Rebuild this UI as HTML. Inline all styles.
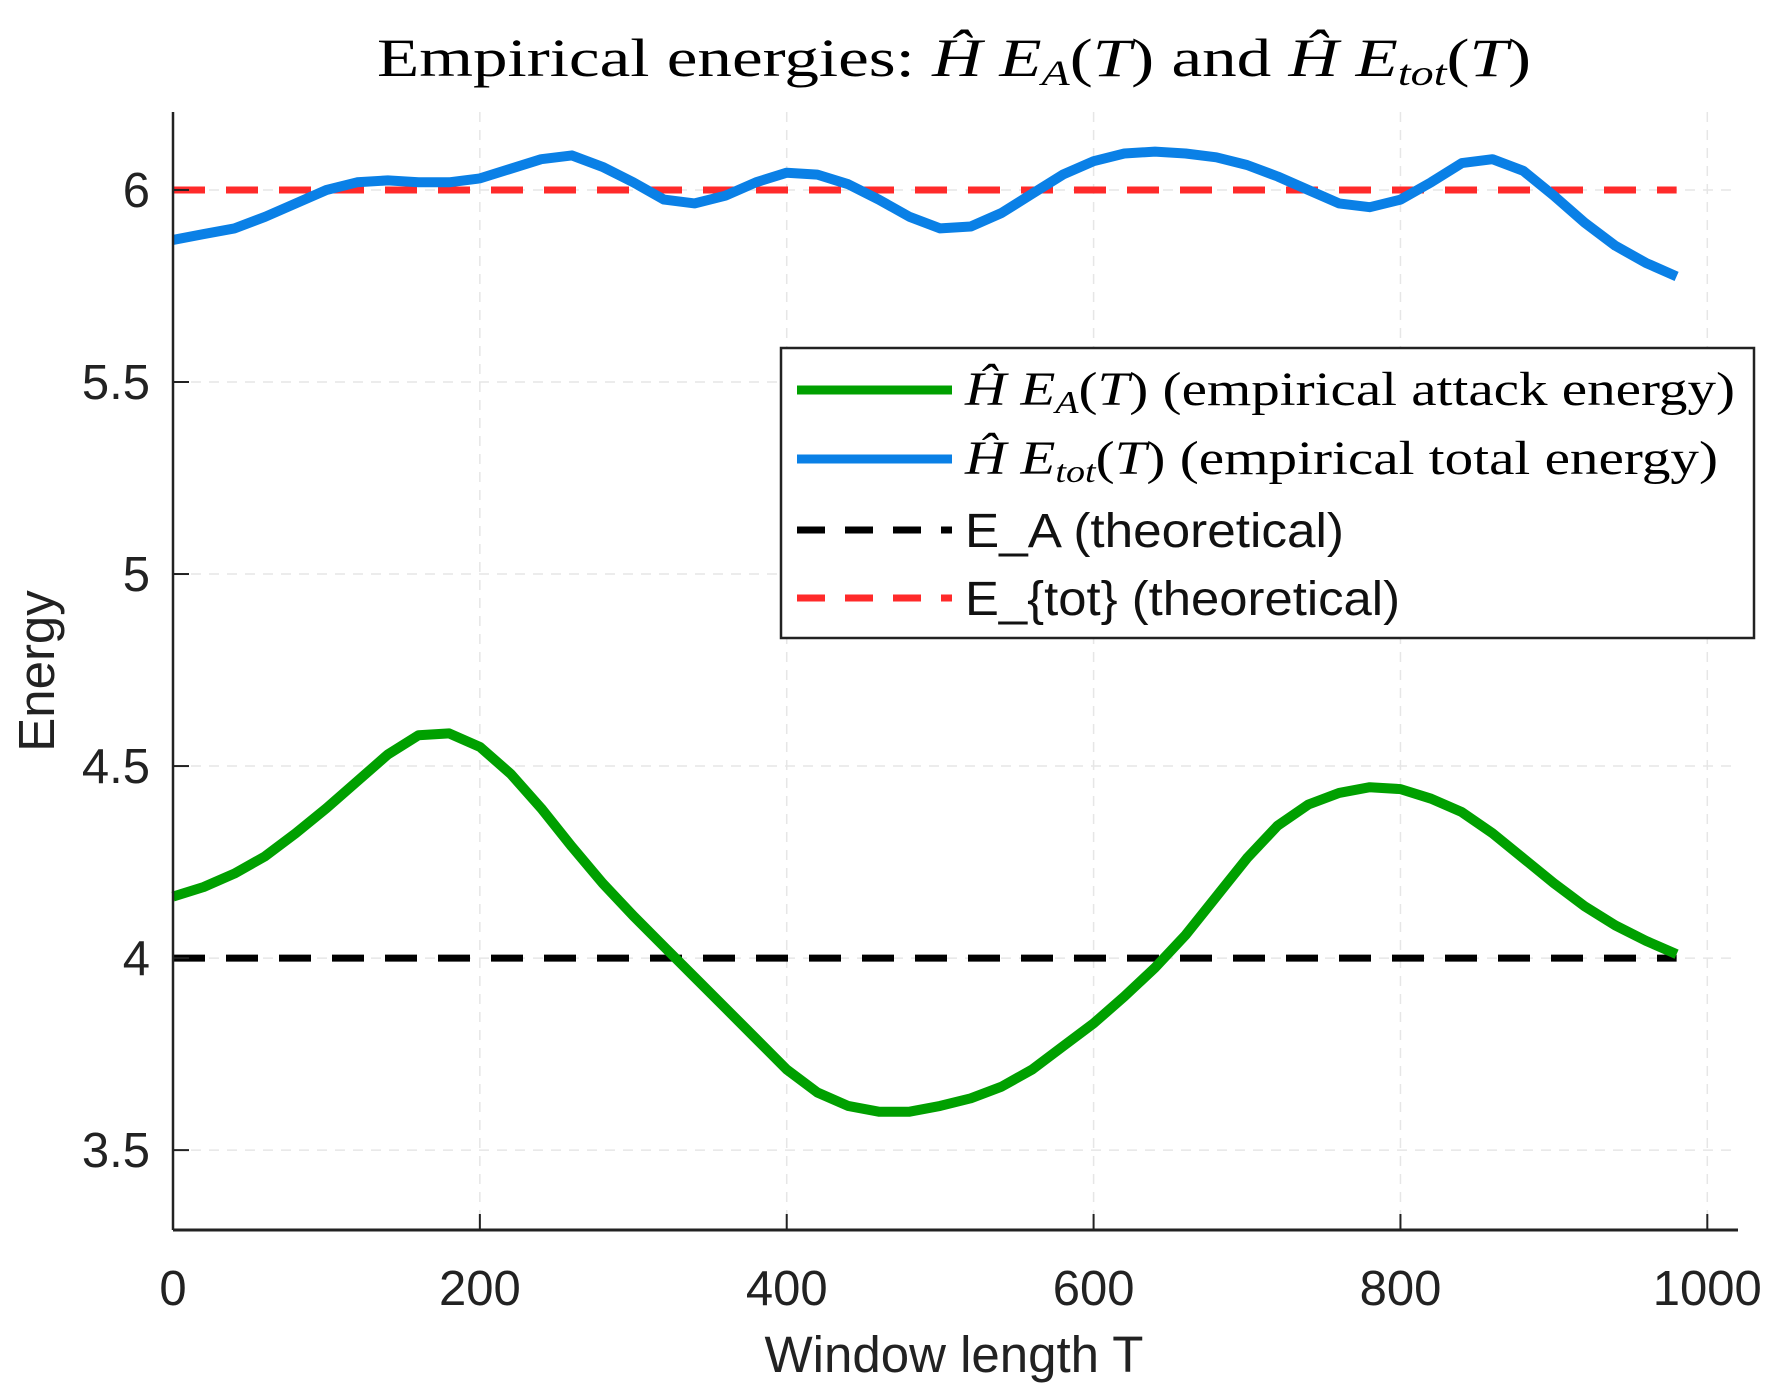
<!DOCTYPE html>
<html><head><meta charset="utf-8"><style>
html,body{margin:0;padding:0;background:#fff}
svg{display:block}
</style></head><body>
<svg id="chart" width="1781" height="1396" viewBox="0 0 1781 1396" xmlns="http://www.w3.org/2000/svg">
<text x="377" y="76" textLength="1154" lengthAdjust="spacingAndGlyphs" font-family="Liberation Serif, serif" font-size="54">Empirical energies: <tspan font-style="italic">Ĥ E</tspan><tspan font-style="italic" font-size="36" dy="9">A</tspan><tspan dy="-9">(</tspan><tspan font-style="italic">T</tspan>) and <tspan font-style="italic">Ĥ E</tspan><tspan font-style="italic" font-size="36" dy="9">tot</tspan><tspan dy="-9">(</tspan><tspan font-style="italic">T</tspan>)</text>
<g id="grid"></g>
<g id="series"></g>
<g id="axes"></g>
<text x="954" y="1372" text-anchor="middle" font-family="Liberation Sans, sans-serif" font-size="51" fill="#222">Window length T</text>
<text transform="translate(54,671) rotate(-90)" text-anchor="middle" font-family="Liberation Sans, sans-serif" font-size="51" fill="#222">Energy</text>
<g>
<rect x="781" y="348" width="973" height="290" fill="#fff" stroke="#222" stroke-width="2.5"/>
<g>
<line x1="797" y1="390" x2="952" y2="390" stroke="#00a000" stroke-width="9"/>
<text x="965" y="405" textLength="770" lengthAdjust="spacingAndGlyphs" font-family="Liberation Serif, serif" font-size="48"><tspan font-style="italic">Ĥ E</tspan><tspan font-style="italic" font-size="32" dy="8">A</tspan><tspan dy="-8">(</tspan><tspan font-style="italic">T</tspan>) (empirical attack energy)</text></g>
<g>
<line x1="797" y1="459" x2="952" y2="459" stroke="#0a80e6" stroke-width="9"/>
<text x="965" y="474" textLength="753" lengthAdjust="spacingAndGlyphs" font-family="Liberation Serif, serif" font-size="48"><tspan font-style="italic">Ĥ E</tspan><tspan font-style="italic" font-size="32" dy="8">tot</tspan><tspan dy="-8">(</tspan><tspan font-style="italic">T</tspan>) (empirical total energy)</text></g>
<g>
<line x1="797" y1="530" x2="952" y2="530" stroke="#000" stroke-width="7" stroke-dasharray="28,20"/>
<text x="965" y="547" textLength="379" lengthAdjust="spacingAndGlyphs" font-family="Liberation Sans, sans-serif" font-size="48" fill="#111">E_A (theoretical)</text></g>
<g>
<line x1="797" y1="598" x2="952" y2="598" stroke="#ff2a2a" stroke-width="7" stroke-dasharray="28,20"/>
<text x="965" y="615" textLength="435" lengthAdjust="spacingAndGlyphs" font-family="Liberation Sans, sans-serif" font-size="48" fill="#111">E_{tot} (theoretical)</text></g>
</g>
</svg>
<script>
const xs = [0,20,40,60,80,100,120,140,160,180,200,220,240,260,280,300,320,340,360,380,400,420,440,460,480,500,520,540,560,580,600,620,640,660,680,700,720,740,760,780,800,820,840,860,880,900,920,940,960,980];
const totalEnergy = [5.87,5.885,5.90,5.93,5.965,6.0,6.02,6.025,6.02,6.02,6.03,6.055,6.08,6.09,6.06,6.02,5.975,5.965,5.985,6.02,6.045,6.04,6.015,5.975,5.93,5.90,5.905,5.94,5.99,6.04,6.075,6.095,6.10,6.095,6.085,6.065,6.035,6.0,5.965,5.955,5.975,6.02,6.07,6.08,6.05,5.985,5.915,5.855,5.81,5.775];
const attackEnergy = [4.16,4.185,4.22,4.265,4.325,4.39,4.46,4.53,4.58,4.585,4.55,4.48,4.39,4.29,4.195,4.11,4.03,3.95,3.87,3.79,3.71,3.65,3.615,3.60,3.60,3.615,3.635,3.665,3.71,3.77,3.83,3.90,3.975,4.06,4.16,4.26,4.345,4.40,4.43,4.445,4.44,4.415,4.38,4.325,4.26,4.195,4.135,4.085,4.045,4.01];
const theoreticalA = 4;
const theoreticalTot = 6;
const xTicks = [0,200,400,600,800,1000];
const yTicks = [3.5,4,4.5,5,5.5,6];
const yTickLabels = ["3.5","4","4.5","5","5.5","6"];

const NS = "http://www.w3.org/2000/svg";
const X0 = 173, X1 = 1738, Y0 = 112, Y1 = 1230;
const xMin = 0, xMax = 1020, yMin = 3.292, yMax = 6.203;
function sx(v){ return X0 + (v - xMin) / (xMax - xMin) * (X1 - X0); }
function sy(v){ return Y1 - (v - yMin) / (yMax - yMin) * (Y1 - Y0); }
function mk(tag, attrs, parent){ const e = document.createElementNS(NS, tag); for (const k in attrs) e.setAttribute(k, attrs[k]); parent.appendChild(e); return e; }

const grid = document.getElementById('grid');
xTicks.forEach(t => {
  const l = mk('line', {x1: sx(t), x2: sx(t), y1: Y0, y2: Y1, stroke: '#e6e6e6', 'stroke-width': 1.5, 'stroke-dasharray': '10,8'}, grid);
  
  
});
yTicks.forEach(t => {
  const l = mk('line', {x1: X0, x2: X1, y1: sy(t), y2: sy(t), stroke: '#e6e6e6', 'stroke-width': 1.5, 'stroke-dasharray': '10,8'}, grid);
  
  
});

const series = document.getElementById('series');
const rl = mk('line', {x1: sx(xs[0]), x2: sx(xs[xs.length-1]), y1: sy(theoreticalTot), y2: sy(theoreticalTot), stroke: '#ff2a2a', 'stroke-width': 7, 'stroke-dasharray': '32,21'}, series);


const bl = mk('line', {x1: sx(xs[0]), x2: sx(xs[xs.length-1]), y1: sy(theoreticalA), y2: sy(theoreticalA), stroke: '#000', 'stroke-width': 7, 'stroke-dasharray': '32,21'}, series);


function pts(arr){ return xs.map((x,i) => sx(x).toFixed(1) + ',' + sy(arr[i]).toFixed(1)).join(' '); }
const tl = mk('polyline', {points: pts(totalEnergy), fill: 'none', stroke: '#0a80e6', 'stroke-width': 10, 'stroke-linejoin': 'round'}, series);


const al = mk('polyline', {points: pts(attackEnergy), fill: 'none', stroke: '#00a000', 'stroke-width': 10, 'stroke-linejoin': 'round'}, series);



const axes = document.getElementById('axes');
const ya = mk('line', {x1: X0, x2: X0, y1: Y0, y2: Y1, stroke: '#222', 'stroke-width': 2.5}, axes);


const xa = mk('line', {x1: X0, x2: X1, y1: Y1, y2: Y1, stroke: '#222', 'stroke-width': 3}, axes);


xTicks.forEach(t => {
  const tk = mk('line', {x1: sx(t), x2: sx(t), y1: Y1, y2: Y1 - 16, stroke: '#222', 'stroke-width': 2}, axes);
  
  
  const tx = mk('text', {x: sx(t), y: 1305, 'text-anchor': 'middle', 'font-family': 'Liberation Sans, sans-serif', 'font-size': 49, fill: '#222'}, axes);
  tx.textContent = String(t);
  
  
});
yTicks.forEach((t, i) => {
  const tk = mk('line', {x1: X0, x2: X0 + 16, y1: sy(t), y2: sy(t), stroke: '#222', 'stroke-width': 2}, axes);
  
  
  const tx = mk('text', {x: 150, y: sy(t) + 17, 'text-anchor': 'end', 'font-family': 'Liberation Sans, sans-serif', 'font-size': 49, fill: '#222'}, axes);
  tx.textContent = yTickLabels[i];
  
  
});
</script>
</body></html>
